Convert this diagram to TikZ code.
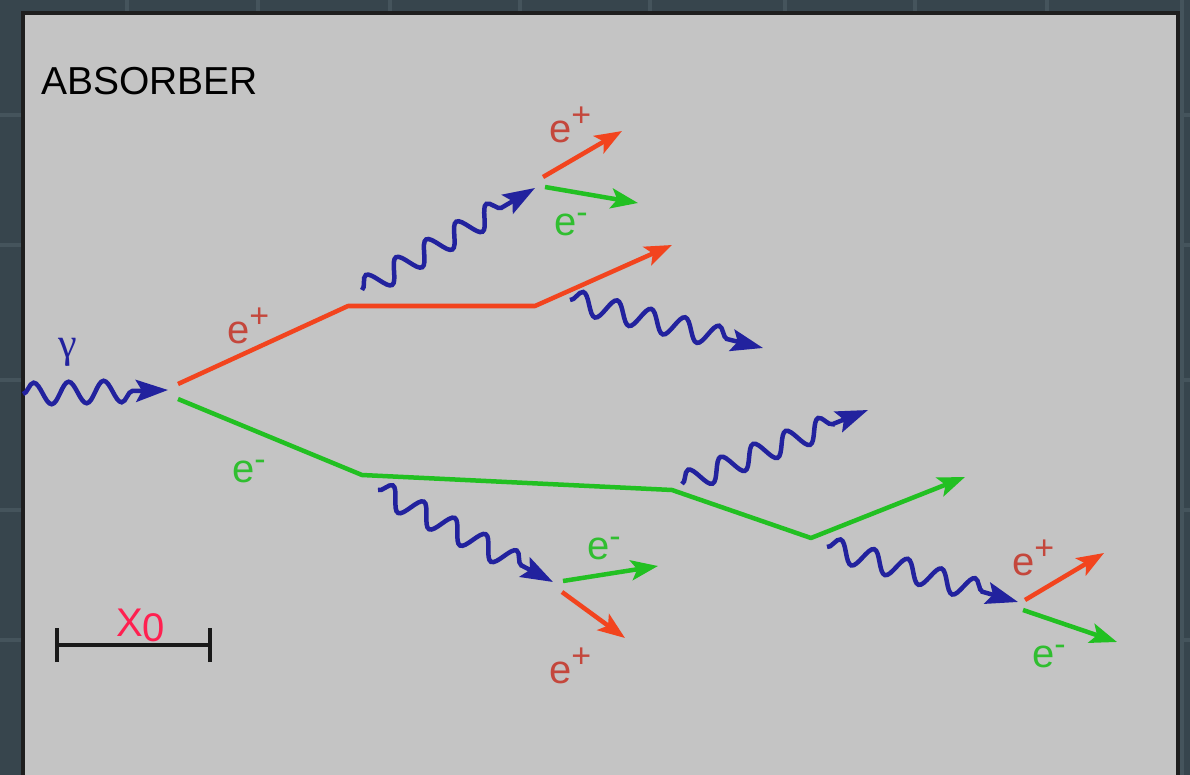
\documentclass[tikz,border=0pt]{standalone}
\usepackage{fontspec}
\setmainfont{Liberation Sans}
\newfontfamily\serifg{Liberation Serif}
\usetikzlibrary{arrows.meta,decorations.pathmorphing}
\definecolor{bgdark}{HTML}{37454D}
\definecolor{gridc}{HTML}{45545C}
\definecolor{panel}{HTML}{C4C4C4}
\definecolor{panelborder}{HTML}{1E1E1E}
\definecolor{pos}{HTML}{F2441E}
\definecolor{poslab}{HTML}{C4473C}
\definecolor{ele}{HTML}{22C022}
\definecolor{elelab}{HTML}{30BE30}
\definecolor{pho}{HTML}{22229E}
\definecolor{xzero}{HTML}{FF2050}
\newcommand\epos{e\raisebox{16pt}{\fontsize{34}{34}\selectfont +}}
\newcommand\eneg{e\raisebox{12pt}{\fontsize{34}{34}\selectfont -}}
\tikzset{
  positron/.style={draw=pos, line width=4.5pt, line join=round, -{Stealth[length=27pt,width=20pt,inset=6pt]}},
  electron/.style={draw=ele, line width=4.5pt, line join=round, -{Stealth[length=27pt,width=20pt,inset=6pt]}},
  photon/.style={draw=pho, line width=4.5pt, decorate,
     decoration={snake, segment length=35pt, amplitude=11pt, post length=26pt},
     -{Stealth[length=32pt,width=22pt,inset=6pt]}},
  plab/.style={text=poslab, anchor=base west, inner sep=0pt, font=\fontsize{40}{44}\selectfont},
  elab/.style={text=elelab, anchor=base west, inner sep=0pt, font=\fontsize{40}{44}\selectfont},
  gridline/.style={draw=gridc, line width=4pt}
}
\begin{document}
\begin{tikzpicture}[x=1pt,y=-1pt]
\useasboundingbox (0,0) rectangle (1190,775);
% background
\fill[bgdark] (0,0) rectangle (1190,775);
\foreach \gx in {127,258,390,520,650,785,915,1047,1182}
  \draw[gridline] (\gx,0) -- (\gx,775);
\foreach \gy in {115,245,380,510,640}
  \draw[gridline] (0,\gy) -- (1190,\gy);
% panel
\draw[panelborder, fill=panel, line width=3.5pt] (23,13) rectangle (1178,790);
\node[anchor=base west, inner sep=0pt, font=\fontsize{39}{44}\selectfont, text=black] (absorber) at (41,95) {ABSORBER};

% incoming photon
\coordinate (g0s) at (23,394);
\coordinate (g0e) at (168,390);
\draw[photon] (g0s) -- (g0e);
\node[inner sep=0pt, text=pho, font=\serifg\fontsize{42}{44}\selectfont] (gam) at (68,352) {γ};

% main positron track
\coordinate (p1a) at (178,384);
\coordinate (p1b) at (348,306);
\coordinate (p1c) at (535,306);
\coordinate (p1d) at (672,245);
\draw[positron] (p1a) -- (p1b) -- (p1c) -- (p1d);
\node[plab] (lp1) at (227,343) {\epos};

% main electron track
\coordinate (m1a) at (178,399);
\coordinate (m1b) at (362,475);
\coordinate (m1c) at (672,490);
\coordinate (m1d) at (811,538);
\coordinate (m1e) at (965,477);
\draw[electron] (m1a) -- (m1b) -- (m1c) -- (m1d) -- (m1e);
\node[elab] (lm1) at (232,482) {\eneg};

% photons
\coordinate (g1s) at (362,290);
\coordinate (g1e) at (535,188);
\draw[photon] (g1s) -- (g1e);
\coordinate (g2s) at (570,300);
\coordinate (g2e) at (763,348);
\draw[photon] (g2s) -- (g2e);
\coordinate (g3s) at (378,490);
\coordinate (g3e) at (553,582);
\draw[photon] (g3s) -- (g3e);
\coordinate (g4s) at (682,484);
\coordinate (g4e) at (868,410);
\draw[photon] (g4s) -- (g4e);
\coordinate (g5s) at (827,547);
\coordinate (g5e) at (1018,602);
\draw[photon] (g5s) -- (g5e);

% top pair
\coordinate (t1a) at (543,177);
\coordinate (t1b) at (622,131);
\draw[positron] (t1a) -- (t1b);
\coordinate (t2a) at (545,187);
\coordinate (t2b) at (638,203);
\draw[electron] (t2a) -- (t2b);
\node[plab] (lt1) at (549,143) {\epos};
\node[elab] (lt2) at (554,236) {\eneg};

% middle-lower pair
\coordinate (b1a) at (563,581);
\coordinate (b1b) at (658,566);
\draw[electron] (b1a) -- (b1b);
\coordinate (b2a) at (562,592);
\coordinate (b2b) at (625,638);
\draw[positron] (b2a) -- (b2b);
\node[elab] (lb1) at (587,559) {\eneg};
\node[plab] (lb2) at (549,683) {\epos};

% right pair
\coordinate (r1a) at (1025,600);
\coordinate (r1b) at (1104,553);
\draw[positron] (r1a) -- (r1b);
\coordinate (r2a) at (1023,610);
\coordinate (r2b) at (1117,642);
\draw[electron] (r2a) -- (r2b);
\node[plab] (lr1) at (1012,575) {\epos};
\node[elab] (lr2) at (1032,667) {\eneg};

% scale bar
\coordinate (sbl) at (57,645);
\coordinate (sbr) at (210,645);
\draw[black!90, line width=4pt] (sbl) -- (sbr);
\draw[black!90, line width=4pt] ([yshift=-17pt]sbl) -- ([yshift=17pt]sbl);
\draw[black!90, line width=4pt] ([yshift=-17pt]sbr) -- ([yshift=17pt]sbr);
\node[anchor=base west, inner sep=0pt, text=xzero, font=\fontsize{40}{44}\selectfont] (x0) at (116,636) {X\raisebox{-5pt}{0}};
\end{tikzpicture}
\end{document}
